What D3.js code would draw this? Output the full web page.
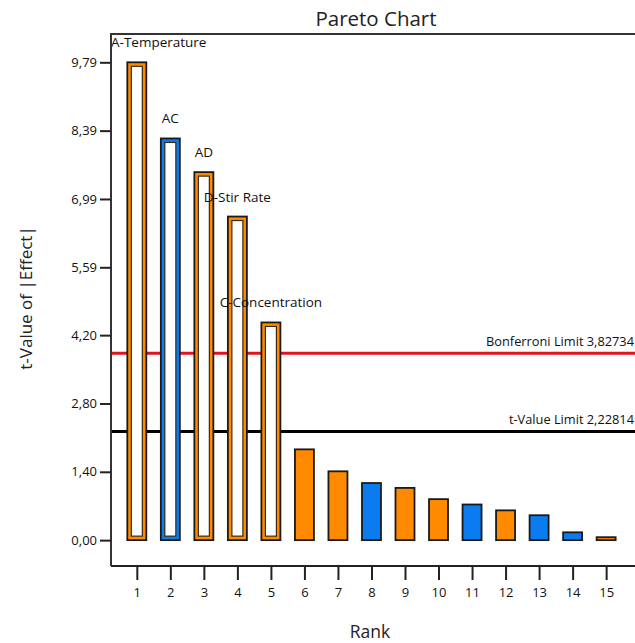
<!DOCTYPE html>
<html>
<head>
<meta charset="utf-8">
<script src="https://cdn.jsdelivr.net/npm/d3@7"></script>
<style>
  body { margin: 0; background: #fff; }
  svg { display: block; font-family: "Open Sans", "Noto Sans", sans-serif; }
</style>
</head>
<body>
<svg id="chart" width="635" height="643"></svg>
<script>
// Effect t-values by rank
const ranks = [1, 2, 3, 4, 5, 6, 7, 8, 9, 10, 11, 12, 13, 14, 15];
const tValues = [9.79, 8.23, 7.54, 6.63, 4.46, 1.86, 1.41, 1.17, 1.07, 0.84, 0.73, 0.61, 0.51, 0.16, 0.06];
const effectSign = ["pos", "neg", "pos", "pos", "pos", "pos", "pos", "neg", "pos", "pos", "neg", "pos", "neg", "neg", "pos"];
const termLabels = ["A-Temperature", "AC", "AD", "D-Stir Rate", "C-Concentration", "", "", "", "", "", "", "", "", "", ""];
const yTicks = [0, 1.40, 2.80, 4.20, 5.59, 6.99, 8.39, 9.79];
const yTickLabels = ["0,00", "1,40", "2,80", "4,20", "5,59", "6,99", "8,39", "9,79"];
const limits = [
  { name: "Bonferroni Limit 3,82734", value: 3.82734, color: "#e0141e" },
  { name: "t-Value Limit 2,22814", value: 2.22814, color: "#000000" }
];

const svg = d3.select("#chart");
const plotLeft = 111, plotRight = 641, plotTop = 34, plotBottom = 566;

const x = d3.scaleLinear().domain([0.23, 16.04]).range([plotLeft, plotRight]);
const y = d3.scaleLinear().domain([-0.53, 10.37]).range([plotBottom, plotTop]);
const color = d => d === "pos" ? "#ff8a00" : "#0a7cf0";
const barW = 19;

// Title
svg.append("text").attr("x", 376).attr("y", 26).attr("text-anchor", "middle")
  .attr("font-size", 20.5).attr("fill", "#222").text("Pareto Chart");

// Limit lines
const lim = svg.append("g");
lim.selectAll("line").data(limits).join("line")
  .attr("x1", plotLeft).attr("x2", plotRight)
  .attr("y1", d => y(d.value)).attr("y2", d => y(d.value))
  .attr("stroke", d => d.color).attr("stroke-width", 3);
lim.selectAll("text").data(limits).join("text")
  .attr("x", 634).attr("y", d => y(d.value) - 7)
  .attr("text-anchor", "end").attr("font-size", 12.8).attr("fill", "#111")
  .text(d => d.name);

// Bars
const data = ranks.map((r, i) => ({ rank: r, t: tValues[i], sign: effectSign[i], label: termLabels[i] }));
const limitT = limits[1].value;
const bars = svg.append("g");
data.forEach(d => {
  const x0 = x(d.rank) - barW / 2;
  const y0 = y(d.t), y1 = y(0);
  bars.append("rect").attr("x", x0).attr("y", y0).attr("width", barW).attr("height", Math.max(y1 - y0, 2))
    .attr("fill", color(d.sign)).attr("stroke", "#1a1a1a").attr("stroke-width", 1.8);
  if (d.t > limitT) {
    bars.append("rect").attr("x", x0 + 4).attr("y", y0 + 4).attr("width", barW - 8).attr("height", y1 - y0 - 8)
      .attr("fill", "#fff").attr("stroke", "#3a2a10").attr("stroke-width", 1.2);
  }
});

// Term labels above significant bars
svg.append("g").selectAll("text").data(data.filter(d => d.label)).join("text")
  .attr("font-size", 13.5).attr("fill", "#111")
  .attr("y", d => y(d.t) - 15)
  .text(d => d.label)
  .each(function (d) {
    const w = this.getComputedTextLength();
    let cx = x(d.rank) - w / 2;
    if (cx < plotLeft) cx = plotLeft;
    d3.select(this).attr("x", cx);
  });

// Frame
svg.append("path")
  .attr("d", `M${plotLeft},${plotBottom}V${plotTop}H${plotRight}`)
  .attr("fill", "none").attr("stroke", "#333").attr("stroke-width", 2);
svg.append("line").attr("x1", plotLeft).attr("x2", plotRight).attr("y1", plotBottom).attr("y2", plotBottom)
  .attr("stroke", "#222").attr("stroke-width", 2.2);

// Y axis
const yAxis = d3.axisLeft(y).tickValues(yTicks).tickSize(11).tickPadding(3)
  .tickFormat((d, i) => yTickLabels[i]);
const gy = svg.append("g").attr("transform", `translate(${plotLeft},0)`).call(yAxis);
gy.select(".domain").remove();
gy.selectAll(".tick line").attr("stroke", "#222").attr("stroke-width", 2);
gy.selectAll(".tick text").attr("font-size", 13).attr("fill", "#111")
  .attr("font-family", "'Open Sans', sans-serif");

// X axis
const xAxis = d3.axisBottom(x).tickValues(ranks).tickSize(13).tickPadding(8).tickFormat(d3.format("d"));
const gx = svg.append("g").attr("transform", `translate(0,${plotBottom + 1})`).call(xAxis);
gx.select(".domain").remove();
gx.selectAll(".tick line").attr("stroke", "#222").attr("stroke-width", 2);
gx.selectAll(".tick text").attr("font-size", 13).attr("fill", "#111")
  .attr("font-family", "'Open Sans', sans-serif");

// Axis titles
svg.append("text").attr("x", 370).attr("y", 638).attr("text-anchor", "middle")
  .attr("font-size", 17.5).attr("fill", "#222").text("Rank");
svg.append("text").attr("transform", "translate(32,298) rotate(-90)").attr("text-anchor", "middle")
  .attr("font-size", 17).attr("fill", "#222").text("t-Value of |Effect|");
</script>
</body>
</html>
